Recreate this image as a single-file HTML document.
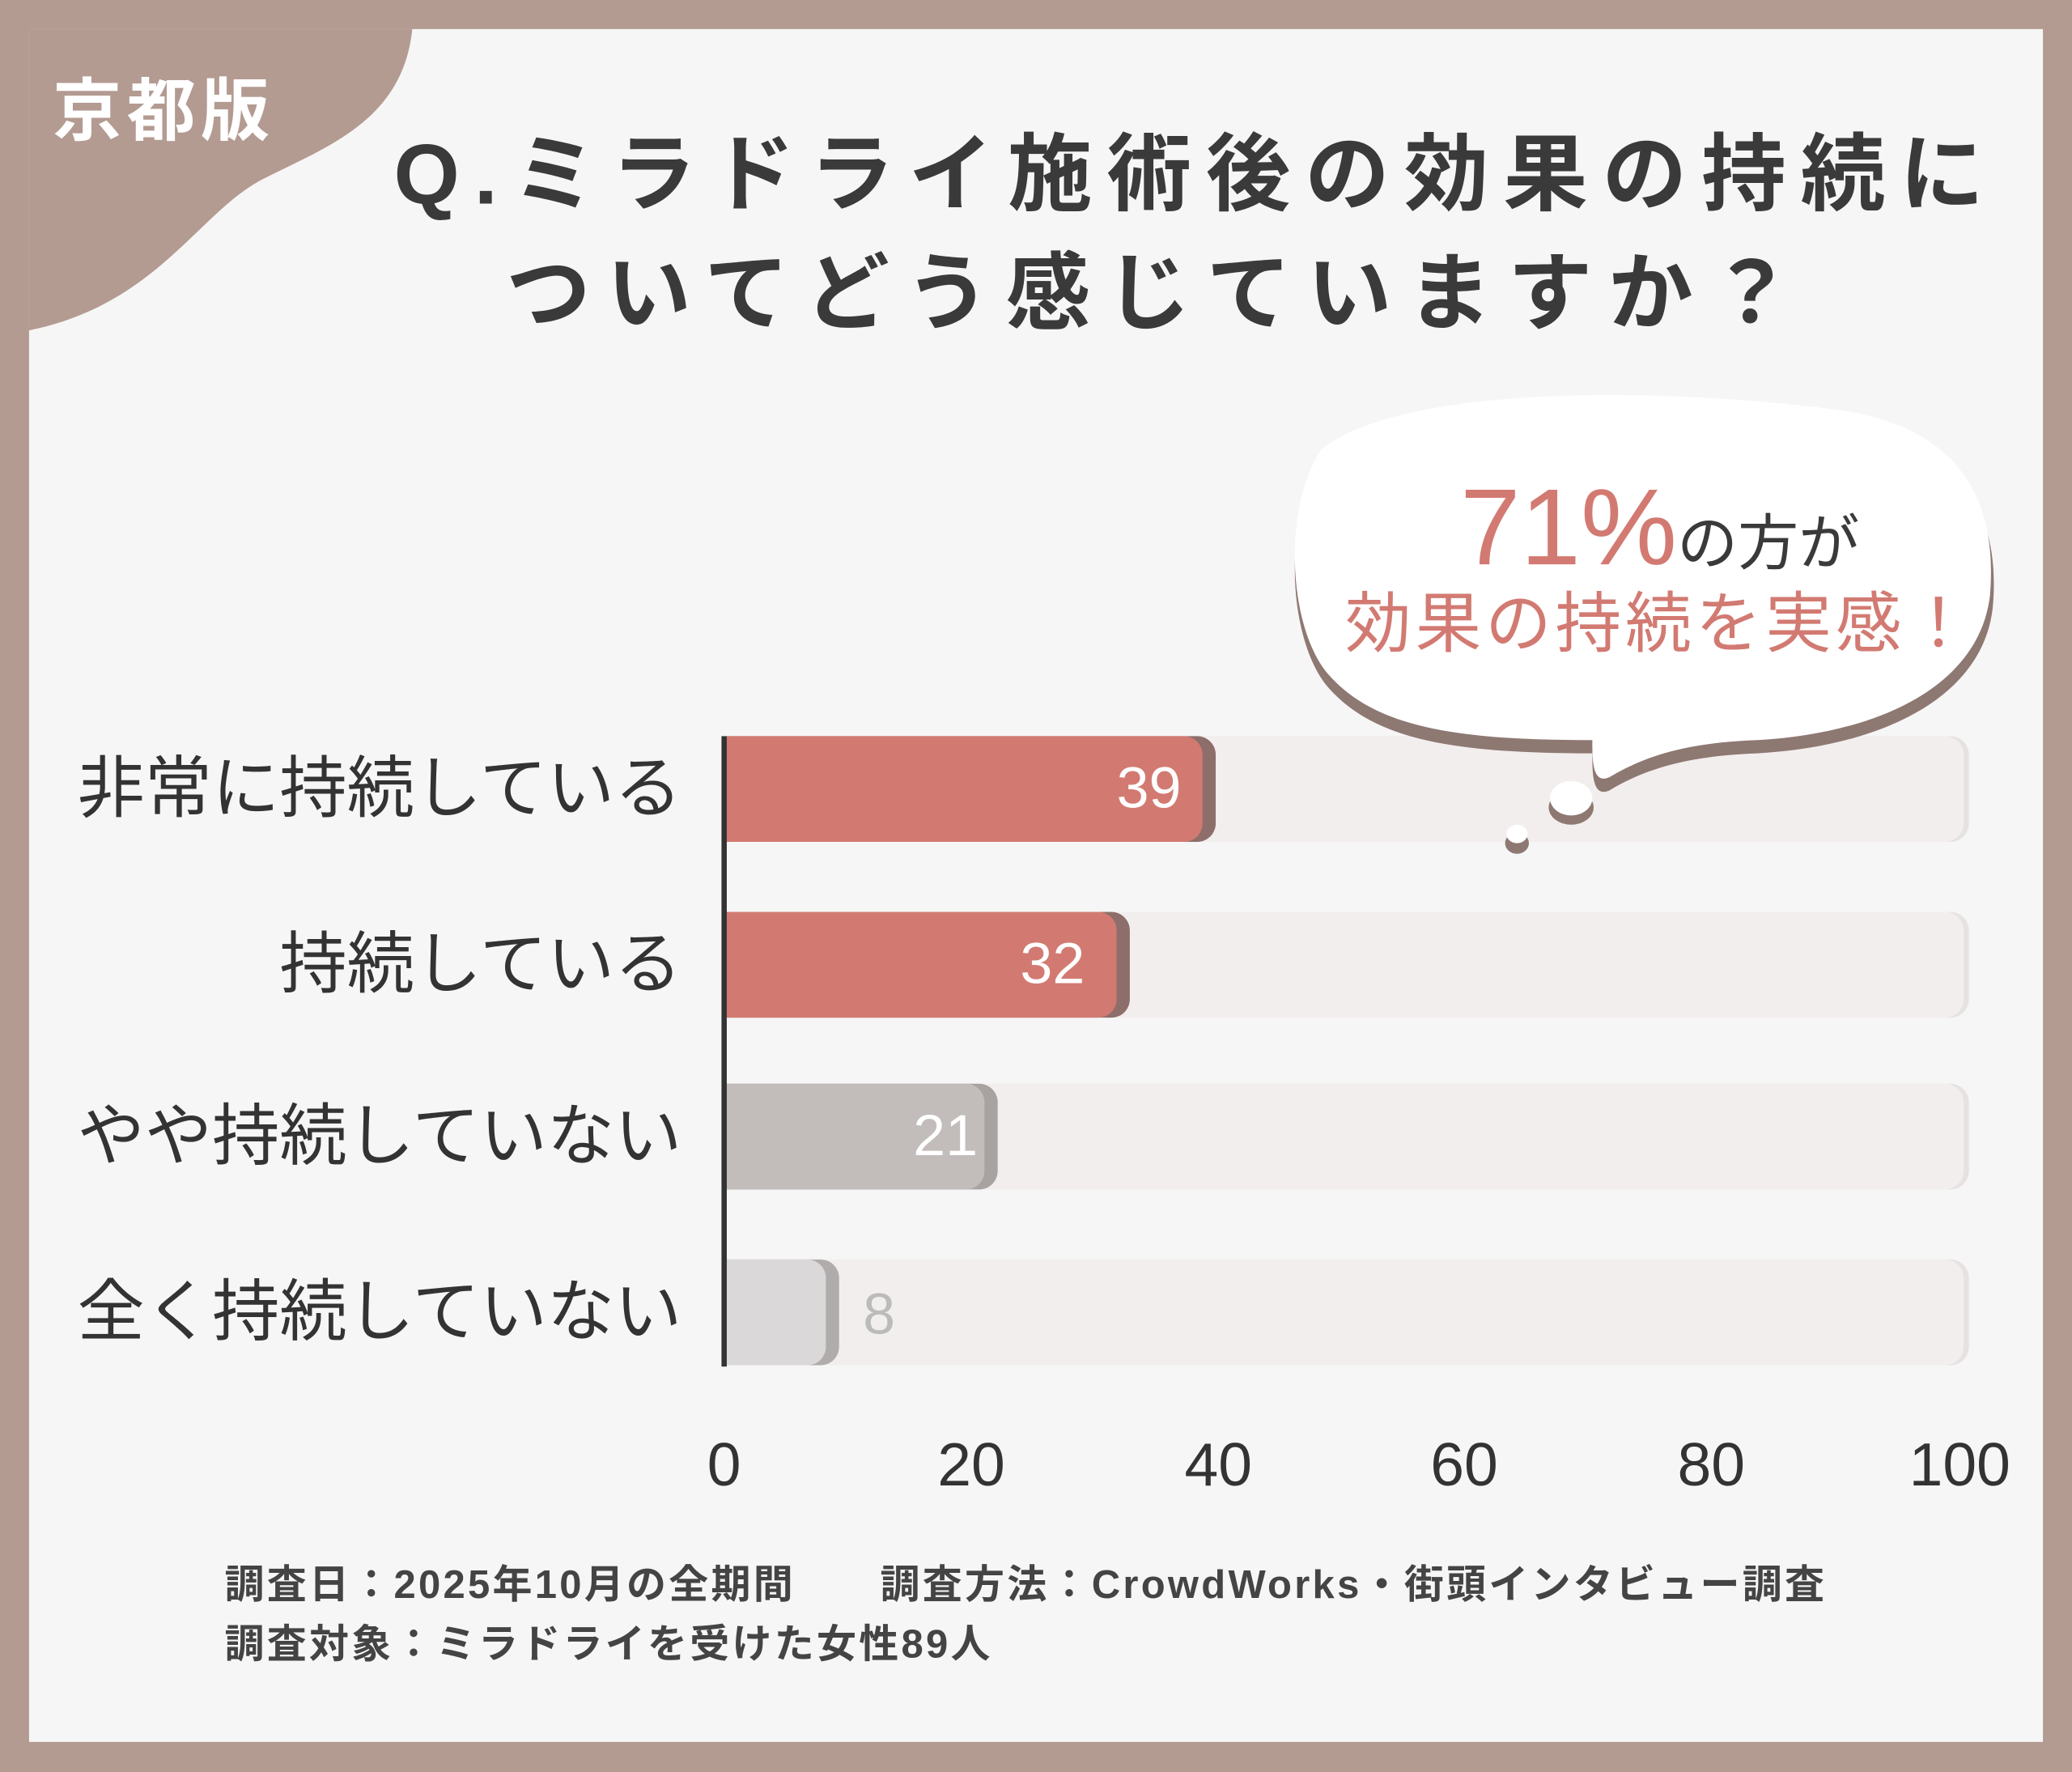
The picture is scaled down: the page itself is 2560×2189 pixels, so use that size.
<!DOCTYPE html>
<html><head><meta charset="utf-8"><style>
html,body{margin:0;padding:0;width:2560px;height:2189px;overflow:hidden;background:#b39b92}
#s{position:absolute;left:0;top:0;width:1568px;height:1341px;transform:scale(1.632653);transform-origin:0 0;font-family:"Liberation Sans","Noto Sans CJK JP",sans-serif}
.inner{position:absolute;left:22px;top:22px;width:1524px;height:1296px;background:#f7f6f6}
.t{position:absolute;white-space:nowrap}
.lab{position:absolute;right:1052px;font-size:51px;color:#333;line-height:80px;letter-spacing:0px}
.track{position:absolute;left:550px;width:936px;height:80px;background:#f2eeed;border-radius:0 14px 14px 0;box-shadow:4px 0 0 #e6e2e1}
.bar{position:absolute;left:550px;height:80px;border-radius:0 14px 14px 0}
.val{position:absolute;font-size:44px;color:#fff;line-height:80px}
.tick{position:absolute;top:1080px;font-size:46px;color:#333;width:120px;text-align:center;line-height:56px}
</style></head><body><div id="s">
<div class="inner"></div>
<svg style="position:absolute;left:0;top:0" width="1568" height="1341">
<path d="M22 22 L312 22 C305 90 250 110 200 135 C150 160 120 230 22 250 Z" fill="#b39b92"/>
</svg>
<div class="t" style="left:40px;top:42px;font-size:52px;font-weight:bold;color:#fff;letter-spacing:4px">京都版</div>
<div class="t" style="left:298px;top:92px;font-size:64px;font-weight:bold;color:#3a3a3a;letter-spacing:11px;line-height:80px">Q.ミラドライ施術後の効果の持続に</div>
<div class="t" style="left:383px;top:182px;font-size:64px;font-weight:bold;color:#3a3a3a;letter-spacing:12px;line-height:80px">ついてどう感じていますか？</div>

<div class="track" style="top:557px"></div>
<div class="track" style="top:690px"></div>
<div class="track" style="top:820px"></div>
<div class="track" style="top:953px"></div>
<div class="bar" style="top:557px;width:370px;background:#8e6e6a"></div>
<div class="bar" style="top:557px;width:360px;background:#d27a72"></div>
<div class="bar" style="top:690px;width:305px;background:#8e6e6a"></div>
<div class="bar" style="top:690px;width:295px;background:#d27a72"></div>
<div class="bar" style="top:820px;width:205px;background:#a8a2a1"></div>
<div class="bar" style="top:820px;width:195px;background:#c2bcbb"></div>
<div class="bar" style="top:953px;width:85px;background:#b0acab"></div>
<div class="bar" style="top:953px;width:75px;background:#dad8d8"></div>
<div class="val" style="left:845px;top:557px">39</div>
<div class="val" style="left:772px;top:690px">32</div>
<div class="val" style="left:691px;top:820px">21</div>
<div class="val" style="left:653px;top:955px;color:#bbb">8</div>
<div style="position:absolute;left:546px;top:557px;width:4px;height:477px;background:#333"></div>
<svg style="position:absolute;left:0;top:0" width="1568" height="1341">
<path d="M1000 350 C1060 300 1250 300 1390 318 C1480 330 1515 385 1508 460 C1500 530 1420 565 1330 570 C1270 572 1240 585 1218 598 C1205 604 1205 585 1205 570 C1100 570 1040 560 1005 520 C975 485 970 395 1000 350 Z" fill="#8e7872"/>
<path d="M1000 340 C1060 292 1250 292 1390 310 C1480 322 1512 375 1506 450 C1498 520 1420 555 1330 560 C1270 562 1240 575 1218 588 C1205 594 1205 575 1205 560 C1100 560 1040 550 1005 510 C975 475 970 385 1000 340 Z" fill="#fff"/>
<ellipse cx="1189" cy="611" rx="17" ry="13" fill="#8e7872"/><ellipse cx="1189" cy="604" rx="16" ry="13" fill="#fff"/>
<ellipse cx="1148" cy="638" rx="9" ry="8" fill="#8e7872"/><ellipse cx="1148" cy="631" rx="8" ry="7" fill="#fff"/>
</svg>
<div class="t" style="left:1105px;top:355px;font-size:82px;color:#d27a72;line-height:90px">71%<span style="font-size:46px;color:#3a3a3a">の方が</span></div>
<div class="t" style="left:1018px;top:440px;font-size:50px;color:#d27a72;letter-spacing:3px;line-height:64px">効果の持続を実感！</div>
<div class="lab" style="top:557px">非常に持続している</div>
<div class="lab" style="top:690px">持続している</div>
<div class="lab" style="top:820px">やや持続していない</div>
<div class="lab" style="top:953px">全く持続していない</div>
<div class="tick" style="left:488px">0</div>
<div class="tick" style="left:675px">20</div>
<div class="tick" style="left:862px">40</div>
<div class="tick" style="left:1048px">60</div>
<div class="tick" style="left:1235px">80</div>
<div class="tick" style="left:1423px">100</div>
<div class="t" style="left:170px;top:1180px;font-size:30px;font-weight:bold;color:#444;line-height:40px;letter-spacing:2px">調査日：2025年10月の全期間　　調査方法：CrowdWorks・街頭インタビュー調査</div>
<div class="t" style="left:170px;top:1225px;font-size:30px;font-weight:bold;color:#444;line-height:40px;letter-spacing:2px">調査対象：ミラドライを受けた女性89人</div>
</div></body></html>
